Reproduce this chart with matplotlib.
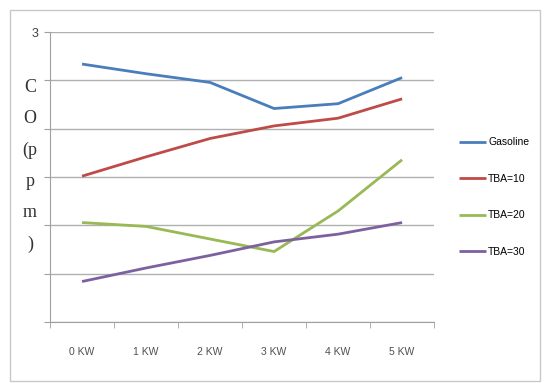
import matplotlib.pyplot as plt
import numpy as np
from matplotlib.patches import Rectangle

# Potencia da carga e emissao de CO (ppm)
cargas = ['0 KW', '1 KW', '2 KW', '3 KW', '4 KW', '5 KW']
gasolina = [2.67, 2.57, 2.48, 2.21, 2.26, 2.53]
tba10 = [1.51, 1.71, 1.90, 2.03, 2.11, 2.31]
tba20 = [1.03, 0.99, 0.86, 0.73, 1.15, 1.68]
tba30 = [0.42, 0.56, 0.69, 0.83, 0.91, 1.03]

series = [('Gasoline', gasolina, '#4A7EBB'),
          ('TBA=10', tba10, '#BE4B48'),
          ('TBA=20', tba20, '#98B954'),
          ('TBA=30', tba30, '#7D60A0')]

yticks = [0, 0.5, 1, 1.5, 2, 2.5, 3]
ytick_labels = ['', '', '', '', '', '', '3']

fig = plt.figure(figsize=(5.44, 3.83), dpi=100)
ax = fig.add_axes([0.092, 0.159, 0.706, 0.757])

# Moldura externa do grafico
fig.patches.append(Rectangle((0.018, 0.004), 0.975, 0.970, transform=fig.transFigure,
                             fill=False, edgecolor='#C8C8C8', linewidth=1.0))

x = np.arange(len(cargas))
for nome, valores, cor in series:
    ax.plot(x, valores, color=cor, lw=2.0, label=nome, solid_capstyle='butt')

ax.set_xlim(-0.5, len(cargas) - 0.5)
ax.set_ylim(0, 3)

ax.set_yticks(yticks)
ax.set_yticklabels(ytick_labels, fontsize=9, color='#404040', family='Liberation Sans')
ax.grid(axis='y', color='#B0B0B0', linewidth=1.0)
ax.set_axisbelow(True)

ax.set_xticks(x)
ax.set_xticklabels(cargas, fontsize=7.5, color='#505050', family='Liberation Sans')
ax.set_xticks(np.arange(len(cargas) + 1) - 0.5, minor=True)
ax.tick_params(axis='x', which='major', length=0, pad=18)
ax.tick_params(axis='x', which='minor', length=4, color='#A0A0A0', direction='out')
ax.tick_params(axis='y', length=4, color='#A0A0A0', pad=4)

for lado in ['top', 'right']:
    ax.spines[lado].set_visible(False)
ax.spines['left'].set_color('#A0A0A0')
ax.spines['bottom'].set_color('#A0A0A0')

# Rotulo do eixo y com as letras empilhadas
fig.text(30 / 544, 1 - 166 / 383, 'C\nO\n(p\np\nm\n)', ha='center', va='center',
         fontsize=13, family='Liberation Serif', color='#333333', linespacing=2.08)

fig.legend(loc='center left', bbox_to_anchor=(450 / 544, 1 - 197 / 383),
           frameon=False, labelspacing=2.55, handlelength=2.6,
           handletextpad=0.15, prop={'family': 'Liberation Sans', 'size': 7.5})

plt.savefig('out.png', dpi=100)
